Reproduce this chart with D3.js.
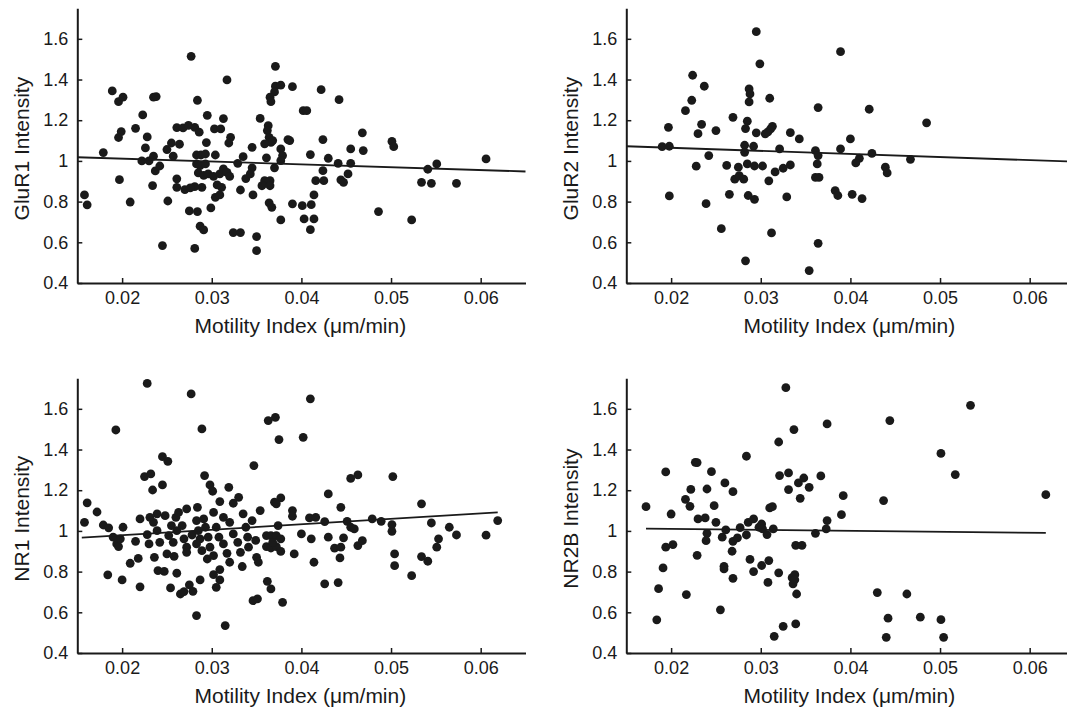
<!DOCTYPE html>
<html>
<head>
<meta charset="utf-8">
<script src="https://cdn.jsdelivr.net/npm/d3@7"></script>
<style>
  html, body { margin: 0; padding: 0; background: #fff; }
  svg { display: block; }
  text { font-family: "Liberation Sans", Arial, sans-serif; fill: #1a1a1a; }
</style>
</head>
<body>
<svg id="chart" width="1067" height="713"></svg>
<script>
// ---------------- DATA ----------------
const xTicks = [0.02, 0.03, 0.04, 0.05, 0.06];
const yTicks = [0.4, 0.6, 0.8, 1, 1.2, 1.4, 1.6];
const xTickLabels = ["0.02", "0.03", "0.04", "0.05", "0.06"];
const yTickLabels = ["0.4", "0.6", "0.8", "1", "1.2", "1.4", "1.6"];
const xLabel = "Motility Index (\u03bcm/min)";
const yLabels = ["GluR1 Intensity", "GluR2 Intensity", "NR1 Intensity", "NR2B Intensity"];

const glur1X = [0.0158,0.0161,0.0179,0.0189,0.0196,0.0201,0.0199,0.0196,0.0197,0.0209,0.0215,0.0223,0.0228,0.0226,0.0222,0.0230,0.0235,0.0235,0.0238,0.0237,0.0242,0.0234,0.0245,0.0251,0.0250,0.0255,0.0257,0.0261,0.0261,0.0264,0.0261,0.0268,0.0274,0.0281,0.0286,0.0277,0.0284,0.0270,0.0275,0.0284,0.0287,0.0291,0.0281,0.0299,0.0295,0.0294,0.0303,0.0310,0.0313,0.0317,0.0321,0.0319,0.0283,0.0288,0.0293,0.0283,0.0287,0.0293,0.0285,0.0291,0.0296,0.0304,0.0302,0.0309,0.0313,0.0317,0.0320,0.0306,0.0311,0.0304,0.0309,0.0289,0.0281,0.0276,0.0324,0.0332,0.0332,0.0329,0.0335,0.0338,0.0345,0.0343,0.0346,0.0350,0.0350,0.0345,0.0354,
  0.0371,0.0371,0.0377,0.0390,0.0370,0.0365,0.0366,0.0422,0.0442,0.0402,0.0406,0.0363,0.0362,0.0364,0.0366,0.0359,0.0368,0.0385,0.0387,0.0424,0.0468,0.0501,0.0503,0.0377,0.0455,0.0469,0.0410,0.0379,0.0361,0.0377,0.0430,0.0441,0.0455,0.0606,0.0551,0.0541,0.0370,0.0424,0.0452,0.0444,0.0447,0.0416,0.0425,0.0534,0.0545,0.0573,0.0359,0.0365,0.0356,0.0365,0.0414,0.0364,0.0367,0.0390,0.0401,0.0411,0.0377,0.0403,0.0414,0.0410,0.0486,0.0523];
const glur1Y = [0.833,0.784,1.041,1.344,1.291,1.313,1.144,1.115,0.908,0.798,1.160,1.226,1.118,1.064,1.000,1.000,1.023,1.313,1.316,0.951,0.975,0.879,0.584,0.803,1.056,1.088,1.023,0.912,0.870,1.082,1.164,1.162,1.175,1.165,1.141,1.514,1.298,0.859,0.754,0.751,0.679,0.661,0.570,0.769,1.224,1.090,1.157,1.157,1.208,1.398,1.116,1.088,1.029,1.029,1.034,0.985,0.977,0.985,0.941,0.929,0.936,1.029,0.924,0.936,0.961,0.944,0.924,0.882,0.870,0.821,0.833,0.870,0.874,0.867,0.648,0.648,0.857,0.988,1.021,0.913,0.966,0.936,0.833,0.628,0.559,1.067,1.209,
  1.465,1.367,1.372,1.365,1.339,1.313,1.291,1.350,1.301,1.247,1.247,1.173,1.149,1.116,1.091,1.084,1.100,1.105,1.100,1.105,1.138,1.096,1.070,1.059,1.059,1.051,1.031,1.026,1.015,1.001,1.013,0.988,0.988,1.010,0.985,0.959,0.966,0.952,0.936,0.907,0.895,0.903,0.903,0.895,0.890,0.890,0.903,0.903,0.878,0.878,0.833,0.794,0.772,0.789,0.780,0.785,0.710,0.715,0.715,0.662,0.751,0.710];
const glur1Fit = [[0.015, 1.018], [0.065, 0.948]];

const glur2X = [0.0190,0.0198,0.0197,0.0198,0.0216,0.0223,0.0224,0.0237,0.0234,0.0230,0.0228,0.0242,0.0239,0.0250,0.0256,0.0262,0.0265,0.0269,0.0271,0.0275,0.0276,0.0281,0.0282,0.0282,0.0283,0.0285,0.0283,0.0287,0.0288,0.0287,0.0285,0.0286,0.0293,0.0292,0.0293,0.0295,0.0299,0.0295,0.0302,0.0305,0.0308,0.0311,0.0313,0.0310,0.0309,0.0312,0.0316,0.0321,0.0325,0.0333,0.0329,0.0333,0.0343,0.0354,0.0364,0.0361,0.0364,0.0363,0.0361,0.0365,0.0364,
  0.0389,0.0421,0.0485,0.0400,0.0389,0.0424,0.0410,0.0406,0.0467,0.0439,0.0441,0.0383,0.0386,0.0402,0.0413];
const glur2Y = [1.070,1.072,1.165,0.828,1.247,1.298,1.421,1.367,1.180,1.134,0.974,1.026,0.790,1.149,0.667,0.978,0.836,1.214,0.910,0.969,0.928,0.910,1.077,1.042,1.159,1.195,0.509,1.354,1.329,1.290,0.985,0.830,0.811,1.072,0.975,1.635,1.477,1.138,0.975,1.133,1.143,1.157,1.170,1.308,0.902,0.646,0.946,1.059,0.964,0.980,0.823,1.139,1.108,0.461,1.262,1.051,1.026,0.985,0.919,0.919,0.595,
  1.537,1.254,1.187,1.108,1.059,1.037,1.013,0.990,1.008,0.969,0.941,0.854,0.830,0.836,0.815];
const glur2Fit = [[0.015, 1.072], [0.065, 0.996]];

const nr1X = [0.0158,0.0161,0.0172,0.0179,0.0185,0.0184,0.0193,0.0190,0.0194,0.0196,0.0198,0.0201,0.0200,0.0209,0.0215,0.0218,0.0220,0.0220,0.0225,0.0228,0.0232,0.0234,0.0228,0.0230,0.0236,0.0235,0.0239,0.0240,0.0247,0.0245,0.0245,0.0251,0.0248,0.0250,0.0258,0.0254,0.0261,0.0257,0.0255,0.0260,0.0263,0.0272,0.0265,0.0269,0.0275,0.0277,0.0279,0.0284,0.0283,0.0287,0.0289,0.0292,0.0298,0.0301,0.0309,0.0319,0.0315,0.0302,0.0305,0.0309,0.0309,0.0295,0.0302,0.0324,0.0330,0.0334,0.0347,0.0346,0.0351,
  0.0267,0.0269,0.0272,0.0278,0.0283,0.0285,0.0287,0.0283,0.0289,0.0293,0.0296,0.0298,0.0302,0.0305,0.0308,0.0313,0.0317,0.0320,0.0320,0.0324,0.0329,0.0332,0.0335,0.0338,0.0340,0.0341,0.0345,0.0349,0.0350,0.0352,0.0354,0.0272,0.0261,0.0291,0.0313,0.0231,0.0239,0.0242,0.0252,
  0.0410,0.0363,0.0371,0.0375,0.0402,0.0455,0.0463,0.0502,0.0430,0.0370,0.0377,0.0372,0.0390,0.0390,0.0444,0.0534,0.0409,0.0416,0.0426,0.0451,0.0479,0.0489,0.0501,0.0501,0.0545,0.0565,0.0573,0.0606,0.0619,0.0455,0.0459,0.0374,0.0361,0.0366,0.0372,0.0377,0.0361,0.0366,0.0372,0.0377,0.0368,0.0400,0.0411,0.0430,0.0447,0.0392,0.0414,0.0437,0.0444,0.0443,0.0463,0.0468,0.0504,0.0504,0.0534,0.0541,0.0551,0.0553,0.0523,0.0426,0.0441,0.0362,0.0366,0.0379];
const nr1Y = [1.042,1.138,1.093,1.029,1.015,0.784,1.496,0.969,0.936,0.923,0.961,1.018,0.759,0.841,0.949,0.865,0.725,1.059,1.267,1.725,1.280,1.201,0.982,0.936,0.870,1.042,1.084,0.805,0.801,1.226,1.365,1.342,1.075,0.887,0.875,0.720,0.792,0.944,1.026,1.067,1.091,1.108,0.690,0.702,0.735,1.673,0.703,1.116,0.584,0.759,1.501,1.272,1.226,1.195,1.144,1.214,0.535,0.785,0.723,0.759,0.810,0.862,1.091,1.136,1.165,0.825,1.321,0.657,0.666,
  1.026,0.961,0.920,0.980,1.051,1.001,0.961,0.936,0.903,1.018,0.969,0.920,0.879,1.018,0.969,0.936,0.890,0.846,1.042,0.985,0.944,0.895,1.084,1.018,0.969,0.920,1.051,0.953,0.870,0.846,1.100,0.895,1.001,1.059,1.067,1.067,1.001,0.944,0.977,
  1.649,1.542,1.558,1.449,1.460,1.258,1.275,1.267,1.182,1.141,1.162,1.133,1.100,1.072,1.116,1.133,1.064,1.067,1.046,1.047,1.059,1.047,1.031,0.998,1.039,1.018,0.980,0.979,1.051,1.018,1.010,1.026,0.977,0.977,0.977,0.961,0.923,0.916,0.923,0.899,0.944,0.985,0.961,0.969,0.966,0.887,0.846,0.915,0.920,0.867,0.928,0.952,0.887,0.829,0.874,0.851,0.920,0.961,0.780,0.740,0.746,0.752,0.715,0.649];
const nr1Fit = [[0.0155, 0.967], [0.0619, 1.091]];

const nr2bX = [0.0172,0.0184,0.0186,0.0191,0.0194,0.0202,0.0194,0.0200,0.0217,0.0216,0.0221,0.0222,0.0227,0.0229,0.0229,0.0230,0.0238,0.0240,0.0239,0.0240,0.0245,0.0248,0.0250,0.0255,0.0257,0.0260,0.0259,0.0259,0.0261,0.0269,0.0268,0.0269,0.0269,0.0274,0.0277,0.0284,0.0286,0.0292,0.0284,0.0288,0.0292,0.0298,0.0301,0.0302,0.0307,0.0301,0.0309,0.0308,0.0310,0.0313,0.0314,0.0315,0.0320,0.0321,0.0320,0.0325,0.0328,0.0331,0.0331,0.0337,0.0335,0.0336,0.0338,0.0338,0.0339,0.0346,0.0340,0.0339,0.0342,0.0344,0.0348,0.0354,0.0361,0.0367,
  0.0374,0.0444,0.0534,0.0501,0.0517,0.0618,0.0437,0.0392,0.0390,0.0374,0.0373,0.0430,0.0463,0.0442,0.0478,0.0501,0.0440,0.0504];
const nr2bY = [1.119,0.563,0.716,0.818,0.920,0.933,1.290,1.083,0.687,1.155,1.121,1.204,1.337,1.336,0.880,1.059,1.064,0.988,0.952,1.206,1.291,1.124,1.042,0.612,0.969,1.236,0.826,0.813,1.005,1.193,0.900,0.767,0.949,0.966,1.016,1.367,1.042,1.059,0.980,0.860,0.800,1.018,1.034,1.010,0.982,0.830,0.854,0.747,1.113,1.119,1.010,0.482,1.437,1.272,0.794,0.531,1.704,1.285,1.203,1.498,0.770,0.740,0.785,0.760,0.929,0.929,0.690,0.543,1.236,1.160,1.260,1.214,0.988,1.270,
  1.526,1.542,1.617,1.381,1.277,1.178,1.149,1.173,1.080,1.051,1.010,0.697,0.690,0.571,0.576,0.564,0.477,0.477];
const nr2bFit = [[0.0172, 1.011], [0.0618, 0.990]];

const xDomain = [0.015, 0.065];
const yDomain = [0.4, 1.75];

// ---------------- LAYOUT ----------------
const svg = d3.select("#chart");
const panels = [
  { xs: glur1X, ys: glur1Y, fit: glur1Fit, label: yLabels[0], left: 77.3, bottom: 283 },
  { xs: glur2X, ys: glur2Y, fit: glur2Fit, label: yLabels[1], left: 626.3, bottom: 283 },
  { xs: nr1X,   ys: nr1Y,   fit: nr1Fit,   label: yLabels[2], left: 77.3, bottom: 653 },
  { xs: nr2bX,  ys: nr2bY,  fit: nr2bFit,  label: yLabels[3], left: 626.3, bottom: 653 }
];
const plotW = 448.2, plotH = 274.7;
const ink = "#1a1a1a";

panels.forEach(p => {
  const x = d3.scaleLinear().domain(xDomain).range([p.left, p.left + plotW]);
  const y = d3.scaleLinear().domain(yDomain).range([p.bottom, p.bottom - plotH]);
  const g = svg.append("g");

  // points
  g.append("g").selectAll("circle")
    .data(d3.range(p.xs.length))
    .join("circle")
    .attr("cx", i => x(p.xs[i]))
    .attr("cy", i => y(p.ys[i]))
    .attr("r", 4.4)
    .attr("fill", ink);

  // regression line
  g.append("path")
    .datum(p.fit)
    .attr("fill", "none")
    .attr("stroke", ink)
    .attr("stroke-width", 1.8)
    .attr("d", d3.line().x(d => x(d[0])).y(d => y(d[1])));

  // x axis
  const xa = g.append("g")
    .attr("transform", `translate(0,${p.bottom})`)
    .call(d3.axisBottom(x).tickValues(xTicks)
      .tickFormat((d, i) => xTickLabels[i])
      .tickSizeInner(-5).tickSizeOuter(0).tickPadding(8));
  // y axis
  const ya = g.append("g")
    .attr("transform", `translate(${p.left},0)`)
    .call(d3.axisLeft(y).tickValues(yTicks)
      .tickFormat((d, i) => yTickLabels[i])
      .tickSizeInner(-5).tickSizeOuter(0).tickPadding(9));

  [xa, ya].forEach(a => {
    a.select(".domain").attr("stroke", ink).attr("stroke-width", 2);
    a.selectAll(".tick line").attr("stroke", ink).attr("stroke-width", 1.5);
    a.selectAll(".tick text")
      .attr("fill", ink)
      .style("font-family", '"Liberation Sans", Arial, sans-serif')
      .style("font-size", "18px");
  });

  // axis titles
  g.append("text")
    .attr("x", p.left + plotW / 2 - 1)
    .attr("y", p.bottom + 50)
    .attr("text-anchor", "middle")
    .style("font-size", "21px")
    .text(xLabel);

  g.append("text")
    .attr("transform", `translate(${p.left - 48},${p.bottom - plotH / 2 + 3}) rotate(-90)`)
    .attr("text-anchor", "middle")
    .style("font-size", "21px")
    .text(p.label);
});
</script>
</body>
</html>
